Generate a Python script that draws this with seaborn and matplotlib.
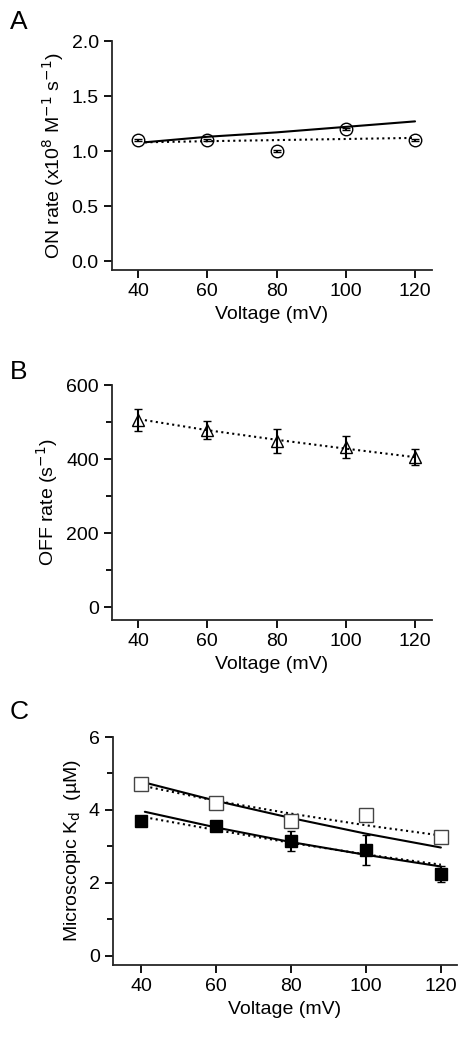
import matplotlib
matplotlib.use("Agg")
import matplotlib.pyplot as plt
import seaborn as sns
import pandas as pd
from matplotlib.ticker import MultipleLocator

voltage = [40, 60, 80, 100, 120]

# panel A
on_rate = [1.10, 1.10, 1.00, 1.20, 1.10]
on_fit_solid = [1.08, 1.13, 1.17, 1.22, 1.27]
on_fit_dotted = [1.08, 1.09, 1.10, 1.11, 1.12]
fit_v_a = [42, 60, 80, 100, 120]

# panel B
off_rate = [505, 478, 448, 432, 405]
off_err = [30, 25, 32, 30, 22]
off_fit = [505, 478, 452, 428, 405]

# panel C
kd_open = [4.70, 4.20, 3.70, 3.85, 3.25]
kd_filled = [3.70, 3.55, 3.15, 2.90, 2.25]
kd_filled_err = [0.10, 0.12, 0.28, 0.42, 0.22]
fit_v_c = [41, 60, 80, 100, 120]
open_fit_solid = [4.75, 4.25, 3.78, 3.35, 2.97]
open_fit_dotted = [4.65, 4.25, 3.90, 3.58, 3.30]
filled_fit_solid = [3.95, 3.52, 3.12, 2.77, 2.45]
filled_fit_dotted = [3.80, 3.45, 3.10, 2.78, 2.50]

sns.set_theme(style="ticks")
plt.rcParams['font.family'] = ['Liberation Sans', 'DejaVu Sans']
plt.rcParams.update({"axes.linewidth": 1.3, "xtick.major.width": 1.3, "ytick.major.width": 1.3,
                     "ytick.minor.width": 1.3, "xtick.major.size": 6, "ytick.major.size": 6,
                     "ytick.minor.size": 4, "xtick.labelsize": 14, "ytick.labelsize": 14,
                     "axes.labelsize": 14, "axes.labelcolor": "black", "text.color": "black",
                     "xtick.color": "black", "ytick.color": "black"})

W, H = 458, 1041
fig = plt.figure(figsize=(W / 100, H / 100), dpi=100)

def ax_at(l, t, r, b):
    return fig.add_axes([l / W, 1 - b / H, (r - l) / W, (b - t) / H])

def style(ax):
    sns.despine(ax=ax)
    ax.set_xlabel("Voltage (mV)")
    ax.set_xticks(voltage)

# A
ax = ax_at(112, 41, 432, 270)
sns.lineplot(x=fit_v_a, y=on_fit_solid, ax=ax, color="black", lw=1.5)
sns.lineplot(x=fit_v_a, y=on_fit_dotted, ax=ax, color="black", lw=1.5, linestyle=":")
ax.errorbar(voltage, on_rate, yerr=0.01, fmt="o", ms=9, mfc="none", mec="black", ecolor="black", capsize=3)
ax.set_xlim(32.5, 124.9)
ax.set_ylim(-0.08, 2.0)
ax.set_yticks([0, 0.5, 1.0, 1.5, 2.0])
ax.set_yticklabels(["0.0", "0.5", "1.0", "1.5", "2.0"])
ax.set_ylabel(r"ON rate (x10$^{8}$ M$^{-1}$ s$^{-1}$)")
style(ax)
fig.text(10 / W, 1 - 22 / H, "A", fontsize=19, va="center")

# B
ax = ax_at(112, 385, 432, 620)
sns.lineplot(x=fit_v_a, y=off_fit, ax=ax, color="black", lw=1.5, linestyle=":")
ax.errorbar(voltage, off_rate, yerr=off_err, fmt="^", ms=9, mfc="none", mec="black", ecolor="black", capsize=3, elinewidth=1.5)
ax.set_xlim(32.5, 124.9)
ax.set_ylim(-35, 600)
ax.set_yticks([0, 200, 400, 600])
ax.yaxis.set_minor_locator(MultipleLocator(100))
ax.set_ylabel(r"OFF rate (s$^{-1}$)")
style(ax)
fig.text(10 / W, 1 - 372 / H, "B", fontsize=19, va="center")

# C
ax = ax_at(113, 737, 457, 965)
sns.lineplot(x=fit_v_c, y=open_fit_solid, ax=ax, color="black", lw=1.5)
sns.lineplot(x=fit_v_c, y=open_fit_dotted, ax=ax, color="black", lw=1.5, linestyle=":")
sns.lineplot(x=fit_v_c, y=filled_fit_solid, ax=ax, color="black", lw=1.5)
sns.lineplot(x=fit_v_c, y=filled_fit_dotted, ax=ax, color="black", lw=1.5, linestyle=":")
ax.errorbar(voltage, kd_filled, yerr=kd_filled_err, fmt="s", ms=9, color="black", capsize=3, elinewidth=1.5)
ax.plot(voltage, kd_open, "s", ms=10, mfc="white", mec="#444444")
ax.set_xlim(32.5, 124.3)
ax.set_ylim(-0.25, 6)
ax.set_yticks([0, 2, 4, 6])
ax.yaxis.set_minor_locator(MultipleLocator(1))
ax.set_ylabel(r"Microscopic K$_\mathrm{d}$  (µM)")
style(ax)
fig.text(10 / W, 1 - 712 / H, "C", fontsize=19, va="center")

fig.savefig("out.png", dpi=100)
